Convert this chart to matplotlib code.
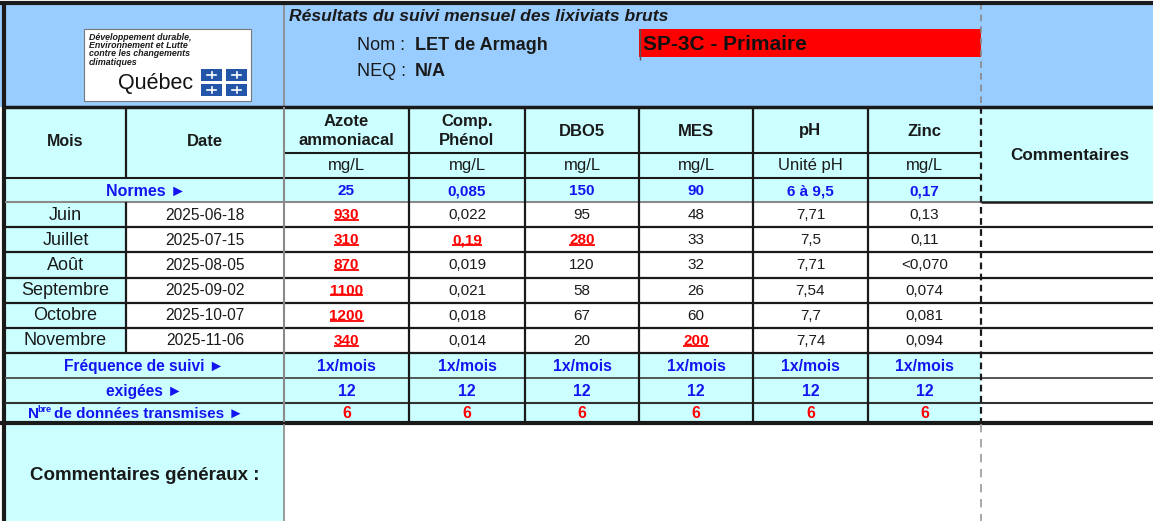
import matplotlib
matplotlib.use("Agg")
import matplotlib.pyplot as plt
from matplotlib.patches import Rectangle

plt.rcParams['font.family'] = ['Liberation Sans', 'DejaVu Sans']

# ---------------- data ----------------
title = "Résultats du suivi mensuel des lixiviats bruts"
site_name = "LET de Armagh"
neq = "N/A"
station = "SP-3C - Primaire"

months = ["Juin", "Juillet", "Août", "Septembre", "Octobre", "Novembre"]
dates = ["2025-06-18", "2025-07-15", "2025-08-05", "2025-09-02", "2025-10-07", "2025-11-06"]

param_names = ["Azote\nammoniacal", "Comp.\nPhénol", "DBO5", "MES", "pH", "Zinc"]
units = ["mg/L", "mg/L", "mg/L", "mg/L", "Unité pH", "mg/L"]
norms = ["25", "0,085", "150", "90", "6 à 9,5", "0,17"]

azote = ["930", "310", "870", "1100", "1200", "340"]
phenol = ["0,022", "0,19", "0,019", "0,021", "0,018", "0,014"]
dbo5 = ["95", "280", "120", "58", "67", "20"]
mes = ["48", "33", "32", "26", "60", "200"]
ph = ["7,71", "7,5", "7,71", "7,54", "7,7", "7,74"]
zinc = ["0,13", "0,11", "<0,070", "0,074", "0,081", "0,094"]
columns = [azote, phenol, dbo5, mes, ph, zinc]

frequency = ["1x/mois"] * 6
required = ["12"] * 6
transmitted = ["6"] * 6

# ---------------- helpers ----------------
def num(s):
    return float(s.replace("<", "").replace(",", "."))

def exceeds(val, norm):
    if val.startswith("<"):
        return False
    v = num(val)
    if " à " in norm:
        lo, hi = [num(p) for p in norm.split(" à ")]
        return v < lo or v > hi
    return v > num(norm)

W, H = 1153, 521
fig = plt.figure(figsize=(W / 100, H / 100), dpi=100)
ax = fig.add_axes([0, 0, 1, 1])
ax.set_xlim(0, W)
ax.set_ylim(H, 0)
ax.axis("off")

BLUE_BG = "#99ccff"
CYAN = "#ccffff"
TXT_BLUE = "#1414f0"
RED = "#ff0000"
DARK = "#1a1a1a"
GRAY = "#8a8a8a"

xs = [5, 126, 284, 409, 525, 639, 753, 868, 981, W]
y_band = (3, 107)
y_names = (107, 153)
y_units = (153, 178)
y_norm = (178, 202)
row_h = 25.17
data_top = 202
data_edges = [data_top + i * row_h for i in range(len(months) + 1)]
y_freq = (data_edges[-1], data_edges[-1] + 25)
y_req = (y_freq[1], y_freq[1] + 24.5)
y_tx = (y_req[1], y_req[1] + 19.5)
y_gen = (y_tx[1] + 2, H)


def rect(x0, y0, x1, y1, fc, ec="none", lw=0, z=1):
    ax.add_patch(Rectangle((x0, y0), x1 - x0, y1 - y0, facecolor=fc,
                           edgecolor=ec, linewidth=lw, zorder=z))


def hline(y, x0, x1, c=DARK, lw=1.6, ls="-", z=3):
    ax.plot([x0, x1], [y, y], color=c, lw=lw, ls=ls, zorder=z, solid_capstyle="butt")


def vline(x, y0, y1, c=DARK, lw=1.6, ls="-", z=3):
    ax.plot([x, x], [y0, y1], color=c, lw=lw, ls=ls, zorder=z, solid_capstyle="butt")


def txt(x, y, s, size=10, weight="normal", color=DARK, ha="center", style="normal", **kw):
    return ax.text(x, y, s, fontsize=size, fontweight=weight, color=color, ha=ha,
                   va="center", fontstyle=style, zorder=5, **kw)


# ---------------- header band ----------------
rect(0, y_band[0], W, y_band[1], BLUE_BG)
vline(xs[2], y_band[0], y_band[1], c=GRAY, lw=1.2)
vline(xs[8], y_band[0], y_band[1], c="#888888", lw=1.2, ls=(0, (4, 3)))

# logo
rect(84, 29, 251, 101, "white", ec="#777777", lw=0.8, z=2)
for i, line in enumerate(["Développement durable,", "Environnement et Lutte",
                          "contre les changements", "climatiques"]):
    txt(89, 37 + i * 8.4, line, size=6.4, weight="bold", style="italic", ha="left")
txt(156, 83, "Québec", size=15.5, color="#111111")
for cx in (201, 226):
    for cy in (69, 84):
        rect(cx, cy, cx + 21, cy + 11.5, "#2356a8", z=3)
        ax.plot([cx + 10.5, cx + 10.5], [cy + 2.5, cy + 9], color="white", lw=1.2, zorder=4)
        ax.plot([cx + 6, cx + 15], [cy + 5.5, cy + 5.5], color="white", lw=1.2, zorder=4)

txt(289, 16.5, title, size=12.6, weight="bold", style="italic", ha="left")
txt(357, 45, "Nom :", size=13, ha="left")
txt(415, 45, site_name, size=13, weight="bold", ha="left")
txt(357, 71, "NEQ :", size=13, ha="left")
txt(415, 71, neq, size=13, weight="bold", ha="left")
rect(639, 29, 981, 57, RED, z=2)
vline(639.5, 29, 60, c="#555555", lw=1)
txt(643, 44.5, station, size=15, weight="bold", ha="left", color="#111111")

# ---------------- table header ----------------
rect(xs[0], y_names[0], xs[8], y_norm[1], CYAN)
rect(xs[8], y_names[0], W, y_norm[1], CYAN)
txt((xs[0] + xs[1]) / 2, 141, "Mois", size=11.5, weight="bold")
txt((xs[1] + xs[2]) / 2, 141, "Date", size=12, weight="bold")
for j in range(6):
    cx = (xs[2 + j] + xs[3 + j]) / 2
    txt(cx, (y_names[0] + y_names[1]) / 2 + 1, param_names[j], size=12, weight="bold",
        linespacing=1.3)
    txt(cx, (y_units[0] + y_units[1]) / 2, units[j], size=12)
    txt(cx, (y_norm[0] + y_norm[1]) / 2 + 1, norms[j], size=11, weight="bold", color=TXT_BLUE)
txt((xs[0] + xs[2]) / 2 + 2, (y_norm[0] + y_norm[1]) / 2 + 1, "Normes ►", size=11.5,
    weight="bold", color=TXT_BLUE)
txt((xs[8] + W) / 2 + 3, 155, "Commentaires", size=12.3, weight="bold")

# ---------------- data rows ----------------
underline_texts = []
for i in range(len(months)):
    y0, y1 = data_edges[i], data_edges[i + 1]
    yc = (y0 + y1) / 2 + 0.5
    rect(xs[0], y0, xs[1], y1, CYAN)
    rect(xs[1], y0, W, y1, "white")
    txt((xs[0] + xs[1]) / 2, yc, months[i], size=13)
    txt((xs[1] + xs[2]) / 2, yc, dates[i], size=11.2)
    for j, col in enumerate(columns):
        cx = (xs[2 + j] + xs[3 + j]) / 2
        if exceeds(col[i], norms[j]):
            t = txt(cx, yc, col[i], size=11, weight="bold", color=RED)
            underline_texts.append(t)
        else:
            txt(cx, yc, col[i], size=11)

# ---------------- summary rows ----------------
for (y0, y1), vals, color in [(y_freq, frequency, TXT_BLUE), (y_req, required, TXT_BLUE),
                              (y_tx, transmitted, RED)]:
    rect(xs[0], y0, xs[8], y1, CYAN)
    rect(xs[8], y0, W, y1, "white")
    for j in range(6):
        cx = (xs[2 + j] + xs[3 + j]) / 2
        txt(cx, (y0 + y1) / 2 + 1, vals[j], size=11.3, weight="bold", color=color)
txt((xs[0] + xs[2]) / 2, (y_freq[0] + y_freq[1]) / 2 + 1, "Fréquence de suivi ►", size=11.2,
    weight="bold", color=TXT_BLUE)
txt((xs[0] + xs[2]) / 2, (y_req[0] + y_req[1]) / 2 + 1, "exigées ►", size=11.2,
    weight="bold", color=TXT_BLUE)
ytx = (y_tx[0] + y_tx[1]) / 2 + 1.5
txt(28, ytx, "N", size=11, weight="bold", color=TXT_BLUE, ha="left")
txt(37.5, ytx - 4.5, "bre", size=6.5, weight="bold", color=TXT_BLUE, ha="left")
txt(54, ytx, "de données transmises ►", size=11, weight="bold", color=TXT_BLUE, ha="left")

# ---------------- general comments ----------------
rect(xs[0], y_gen[0], xs[2], y_gen[1], CYAN)
rect(xs[2], y_gen[0], W, y_gen[1], "white")
txt((xs[0] + xs[2]) / 2, 476, "Commentaires généraux :", size=13.5, weight="bold")

# ---------------- grid lines ----------------
hline(y_band[0], 0, W, lw=3)
vline(3.5, y_band[0], H, lw=3)
hline(y_band[1], xs[0], W, lw=2.5)
hline(y_names[1], xs[2], xs[8], lw=1.5)
hline(y_units[1], xs[2], xs[8], lw=1.5)
hline(y_units[1], xs[0], xs[2], lw=1.5)
hline(y_norm[1], xs[0], xs[8], c=GRAY, lw=1.5)
hline(y_norm[1], xs[8], W, lw=1.8)
for y in data_edges[1:]:
    hline(y, xs[0], W, lw=1.6)
hline(y_freq[1], xs[0], W, c="#555555", lw=1.4)
hline(y_req[1], xs[0], W, c="#333333", lw=1.5)
hline(y_tx[1] + 1, 0, W, lw=3)
vline(xs[1], y_norm[1], data_edges[-1], lw=1.6)
vline(xs[1], y_names[0], y_units[1], lw=1.6)
vline(xs[2], y_names[0], y_tx[1], c=GRAY, lw=1.5)
for k in range(3, 8):
    vline(xs[k], y_names[0], y_tx[1], lw=1.6)
vline(xs[2], y_gen[0], H, lw=1.2, c=GRAY)
vline(xs[8], y_names[0], y_tx[1], lw=1.6, ls=(0, (3, 2)))
vline(xs[8], y_gen[0], H, lw=1.2, c="#999999", ls=(0, (5, 4)))

# underline exceedances
fig.canvas.draw()
inv = ax.transData.inverted()
for t in underline_texts:
    bb = t.get_window_extent()
    (x0, yb), (x1, _) = inv.transform([[bb.x0, bb.y0], [bb.x1, bb.y1]])
    ax.plot([x0, x1], [yb - 2.2, yb - 2.2], color=RED, lw=1.3, zorder=6,
            solid_capstyle="butt")

fig.savefig("out.png", dpi=100)
